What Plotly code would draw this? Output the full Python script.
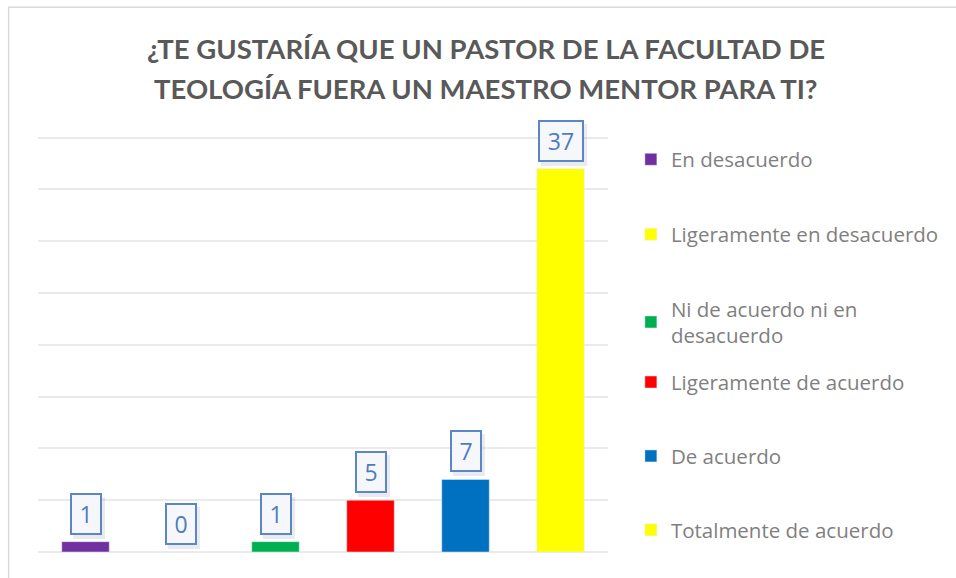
import plotly.graph_objects as go

categories = ["En desacuerdo", "Ligeramente en desacuerdo", "Ni de acuerdo ni en desacuerdo",
              "Ligeramente de acuerdo", "De acuerdo", "Totalmente de acuerdo"]
legend_labels = ["En desacuerdo", "Ligeramente en desacuerdo", "Ni de acuerdo ni en<br>desacuerdo",
                 "Ligeramente de acuerdo", "De acuerdo", "Totalmente de acuerdo"]
values = [1, 0, 1, 5, 7, 37]
colors = ["#7030A0", "#FFFF00", "#00B050", "#FF0000", "#0070C0", "#FFFF00"]
title_lines = ["¿TE GUSTARÍA QUE UN PASTOR DE LA FACULTAD DE",
               "TEOLOGÍA FUERA UN MAESTRO MENTOR PARA TI?"]

W, H = 956, 578
L, R, T, B = 38, 611, 135.5, 552
YMAX = 40.15

fig = go.Figure()
legend_names = ["legend", "legend2", "legend3", "legend4", "legend5", "legend6"]
legend_py = [159, 234, 322, 382, 456, 530]

for i, (cat, lab, v, c) in enumerate(zip(categories, legend_labels, values, colors)):
    fig.add_trace(go.Bar(x=[cat], y=[v], name=lab, marker_color=c, width=0.5,
                         legend=legend_names[i], hoverinfo="x+y"))

layout_legends = {}
for i, name in enumerate(legend_names):
    layout_legends[name] = dict(
        x=(634 - L) / (R - L), xref="paper", xanchor="left",
        y=(B - legend_py[i]) / (B - T), yref="paper", yanchor="middle",
        font=dict(family="Open Sans, sans-serif", size=20.5, color="#7F7F7F"),
        bgcolor="rgba(0,0,0,0)", borderwidth=0, itemwidth=30,
    )

def py2paper(py):
    return (B - py) / (B - T)

annotations = []
for line, py in zip(title_lines, [48, 88]):
    annotations.append(dict(x=(488 - L) / (R - L), y=py2paper(py), xref="paper", yref="paper",
                            text=line, showarrow=False, xanchor="center", yanchor="middle",
                            font=dict(family="Lato, sans-serif", size=27.5, color="#595959",
                                      weight="bold")))

for cat, v in zip(categories, values):
    txt = str(v)
    w = 22 if len(txt) == 1 else 36
    # shadow
    annotations.append(dict(x=cat, y=v, xref="x", yref="y", text=" ", showarrow=False,
                            yanchor="bottom", yshift=3, xshift=3, width=w, height=32,
                            bgcolor="rgba(120,130,150,0.16)", borderpad=5, borderwidth=0))
    annotations.append(dict(x=cat, y=v, xref="x", yref="y", text=txt, showarrow=False,
                            yanchor="bottom", yshift=7, width=w, height=32,
                            font=dict(family="Open Sans, sans-serif", size=23, color="#4F7CBF"),
                            bgcolor="#F5F7FB", bordercolor="#5B87C6", borderwidth=2, borderpad=3))

fig.update_layout(
    width=W, height=H,
    margin=dict(l=L, r=W - R, t=T, b=H - B, pad=0),
    paper_bgcolor="white", plot_bgcolor="white",
    barmode="overlay",
    xaxis=dict(showticklabels=False, showgrid=False, zeroline=False, showline=False, ticks="",
               categoryorder="array", categoryarray=categories),
    yaxis=dict(range=[0, YMAX], tickvals=[5, 10, 15, 20, 25, 30, 35, 40], showticklabels=False,
               showgrid=True, gridcolor="#EAEAEA", gridwidth=1.5,
               zeroline=True, zerolinecolor="#EAEAEA", zerolinewidth=1.5,
               showline=False, ticks=""),
    annotations=annotations,
    shapes=[dict(type="rect", xref="paper", yref="paper",
                 x0=(8.5 - L) / (R - L), x1=(1000 - L) / (R - L),
                 y0=py2paper(700), y1=py2paper(6.5),
                 line=dict(color="#D9D9D9", width=1.5), fillcolor="rgba(0,0,0,0)", layer="below")],
    showlegend=True,
    **layout_legends,
)

fig.write_html("out.html", config={"displayModeBar": False},
               post_script="document.body.style.margin='0px';")
